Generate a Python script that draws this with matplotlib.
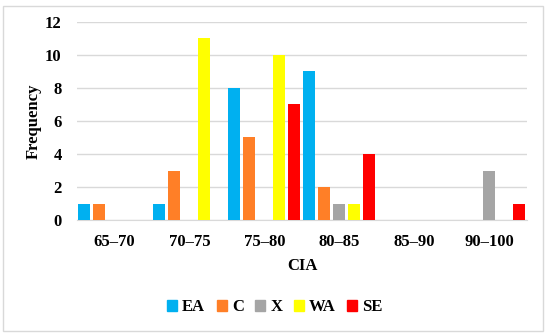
import numpy as np
import matplotlib.pyplot as plt
from matplotlib.patches import Patch, Rectangle

plt.rcParams['font.family'] = ['Liberation Serif', 'DejaVu Serif']
plt.rcParams['font.weight'] = 'bold'

categories = ['65–70', '70–75', '75–80', '80–85', '85–90', '90–100']
series = ['EA', 'C', 'X', 'WA', 'SE']
EA = [1, 1, 8, 9, 0, 0]
C = [1, 3, 5, 2, 0, 0]
X = [0, 0, 0, 1, 0, 3]
WA = [0, 11, 10, 1, 0, 0]
SE = [0, 0, 7, 4, 0, 1]
colors = ['#00B0F0', '#FF7F27', '#A5A5A5', '#FFFF00', '#FF0000']

values = [EA, C, X, WA, SE]

fig = plt.figure(figsize=(5.5, 3.36), dpi=100)
ax = fig.add_axes([0.14, 0.345, 0.818, 0.59])

x = np.arange(len(categories))
slot = 0.2
for i, (name, vals, col) in enumerate(zip(series, values, colors)):
    ax.bar(x - 0.4 + slot * i, vals, width=0.16, color=col, label=name, zorder=3)

ax.set_xlim(-0.5, 5.5)
ax.set_ylim(0, 12)
ax.set_yticks(range(0, 13, 2))
ax.set_xticks(x)
ax.set_xticklabels(categories)
ax.grid(axis='y', color='#D9D9D9', linewidth=1, zorder=0)
for s in ['top', 'right', 'left']:
    ax.spines[s].set_visible(False)
ax.spines['bottom'].set_color('#D9D9D9')
ax.tick_params(length=0, labelsize=12)
ax.tick_params(axis='x', pad=10)
ax.tick_params(axis='y', pad=11)
for lab in ax.get_xticklabels() + ax.get_yticklabels():
    lab.set_fontweight('bold')

ax.set_xlabel('CIA', fontsize=12, fontweight='bold', labelpad=6)
ax.set_ylabel('Frequency', fontsize=12, fontweight='bold', labelpad=2)

handles = [Patch(color=c, label=n) for n, c in zip(series, colors)]
fig.legend(handles=handles, loc='center', bbox_to_anchor=(0.5, 0.086), ncol=5,
           frameon=False, handlelength=0.6, handleheight=0.6, handletextpad=0.3,
           columnspacing=0.7, prop={'size': 12, 'weight': 'bold'})

fig.patches.append(Rectangle((0.005, 0.015), 0.983, 0.968, transform=fig.transFigure,
                             fill=False, edgecolor='#D9D9D9', linewidth=1))

fig.savefig('out.png', dpi=100)
